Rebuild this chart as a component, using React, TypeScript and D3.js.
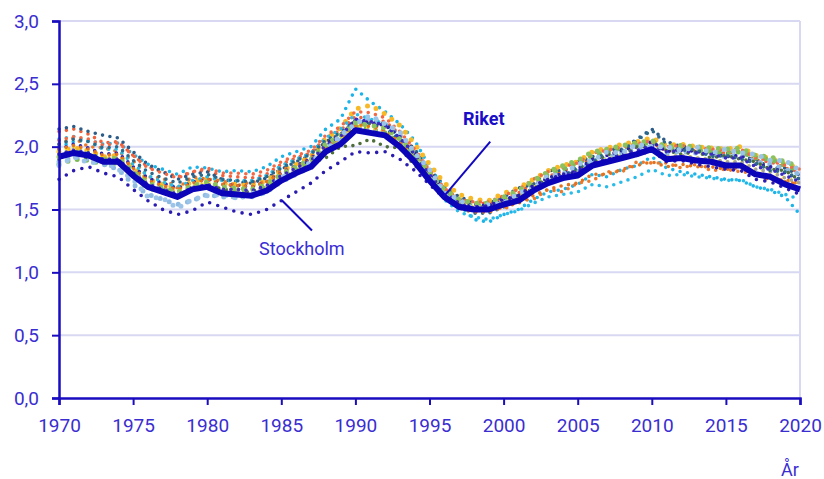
import { useEffect, useRef } from "react";
import * as d3 from "d3";

const years = d3.range(1970, 2021);
const xTicks = [1970, 1975, 1980, 1985, 1990, 1995, 2000, 2005, 2010, 2015, 2020];
const yTicks = [0, 0.5, 1, 1.5, 2, 2.5, 3];

const riket = [1.92, 1.95, 1.93, 1.88, 1.88, 1.77, 1.68, 1.64, 1.60, 1.66, 1.68, 1.63, 1.62, 1.61, 1.65, 1.73, 1.79, 1.84, 1.96, 2.02, 2.13, 2.11, 2.09, 2.00, 1.88, 1.73, 1.60, 1.52, 1.50, 1.50, 1.54, 1.57, 1.65, 1.71, 1.75, 1.77, 1.85, 1.88, 1.91, 1.94, 1.98, 1.90, 1.91, 1.89, 1.88, 1.85, 1.85, 1.78, 1.76, 1.70, 1.66];
const stockholm = [1.74, 1.81, 1.84, 1.79, 1.76, 1.66, 1.57, 1.50, 1.46, 1.49, 1.56, 1.52, 1.48, 1.46, 1.50, 1.57, 1.64, 1.71, 1.81, 1.88, 1.96, 1.95, 1.96, 1.90, 1.81, 1.70, 1.59, 1.53, 1.52, 1.53, 1.58, 1.61, 1.69, 1.74, 1.78, 1.80, 1.87, 1.89, 1.91, 1.93, 1.97, 1.88, 1.89, 1.86, 1.84, 1.82, 1.81, 1.74, 1.72, 1.67, 1.62];

// övriga län
const uppsala = [2.12, 2.14, 2.10, 2.03, 2.04, 1.93, 1.84, 1.80, 1.76, 1.80, 1.81, 1.77, 1.76, 1.75, 1.78, 1.86, 1.91, 1.95, 2.07, 2.13, 2.24, 2.22, 2.20, 2.10, 1.97, 1.80, 1.67, 1.58, 1.55, 1.55, 1.59, 1.63, 1.71, 1.76, 1.81, 1.83, 1.92, 1.94, 1.97, 2.00, 2.03, 1.97, 1.98, 1.97, 1.96, 1.95, 1.96, 1.89, 1.88, 1.83, 1.80];
const sodermanland = [2.14, 2.16, 2.12, 2.09, 2.07, 1.96, 1.86, 1.80, 1.74, 1.78, 1.80, 1.74, 1.72, 1.71, 1.75, 1.82, 1.88, 1.93, 2.04, 2.10, 2.20, 2.19, 2.18, 2.09, 1.98, 1.82, 1.69, 1.60, 1.56, 1.55, 1.60, 1.67, 1.70, 1.81, 1.81, 1.88, 1.92, 1.98, 1.98, 2.06, 2.14, 2.04, 2.00, 2.01, 1.95, 1.95, 1.92, 1.90, 1.83, 1.83, 1.77];
const ostergotland = [2.00, 2.04, 2.05, 2.02, 2.03, 1.94, 1.86, 1.82, 1.78, 1.84, 1.83, 1.80, 1.81, 1.80, 1.84, 1.92, 1.96, 2.00, 2.14, 2.22, 2.46, 2.36, 2.28, 2.18, 2.05, 1.84, 1.66, 1.54, 1.42, 1.40, 1.46, 1.50, 1.58, 1.64, 1.66, 1.70, 1.78, 1.76, 1.82, 1.85, 1.92, 1.83, 1.80, 1.78, 1.76, 1.74, 1.73, 1.68, 1.65, 1.60, 1.46];
const jonkoping = [1.96, 1.99, 1.97, 1.92, 1.93, 1.83, 1.74, 1.70, 1.67, 1.72, 1.75, 1.71, 1.70, 1.69, 1.73, 1.81, 1.86, 1.92, 2.06, 2.15, 2.30, 2.33, 2.26, 2.17, 2.02, 1.86, 1.71, 1.62, 1.58, 1.57, 1.63, 1.67, 1.74, 1.81, 1.85, 1.88, 1.96, 1.99, 2.02, 2.04, 2.07, 2.01, 2.02, 2.00, 1.99, 1.98, 2.00, 1.93, 1.91, 1.86, 1.83];
const kronoberg = [1.86, 1.90, 1.89, 1.86, 1.87, 1.76, 1.67, 1.64, 1.62, 1.66, 1.70, 1.66, 1.65, 1.64, 1.68, 1.76, 1.82, 1.87, 1.99, 2.05, 2.16, 2.14, 2.11, 2.03, 1.92, 1.77, 1.64, 1.55, 1.53, 1.52, 1.57, 1.62, 1.70, 1.78, 1.82, 1.87, 1.93, 1.96, 1.99, 2.01, 2.04, 1.98, 1.99, 1.97, 1.96, 1.95, 1.96, 1.91, 1.90, 1.85, 1.81];
const kalmar = [1.88, 1.92, 1.90, 1.86, 1.82, 1.70, 1.62, 1.58, 1.54, 1.57, 1.62, 1.60, 1.60, 1.60, 1.64, 1.72, 1.78, 1.84, 1.97, 2.06, 2.20, 2.22, 2.18, 2.08, 1.95, 1.78, 1.63, 1.54, 1.50, 1.50, 1.55, 1.59, 1.66, 1.72, 1.77, 1.80, 1.88, 1.91, 1.95, 1.98, 2.00, 1.95, 1.96, 1.95, 1.94, 1.92, 1.93, 1.88, 1.86, 1.82, 1.78];
const gotland = [2.02, 2.07, 2.00, 1.99, 1.96, 1.89, 1.76, 1.75, 1.67, 1.76, 1.74, 1.73, 1.69, 1.72, 1.71, 1.82, 1.84, 1.92, 1.99, 2.10, 2.16, 2.19, 2.12, 2.07, 1.91, 1.80, 1.63, 1.58, 1.51, 1.54, 1.50, 1.57, 1.58, 1.66, 1.64, 1.71, 1.73, 1.80, 1.80, 1.88, 1.87, 1.87, 1.83, 1.86, 1.81, 1.82, 1.80, 1.79, 1.73, 1.74, 1.70];
const blekinge = [1.98, 2.02, 1.99, 1.94, 1.95, 1.84, 1.75, 1.71, 1.67, 1.72, 1.74, 1.70, 1.69, 1.68, 1.72, 1.79, 1.85, 1.90, 2.02, 2.09, 2.21, 2.19, 2.17, 2.08, 1.95, 1.80, 1.66, 1.57, 1.54, 1.53, 1.57, 1.61, 1.69, 1.75, 1.79, 1.82, 1.90, 1.93, 1.97, 2.00, 2.04, 1.96, 1.98, 1.96, 1.95, 1.92, 1.93, 1.86, 1.84, 1.79, 1.74];
const skane = [1.97, 2.00, 1.96, 1.91, 1.91, 1.80, 1.71, 1.67, 1.64, 1.69, 1.71, 1.67, 1.66, 1.65, 1.69, 1.77, 1.83, 1.88, 2.00, 2.06, 2.17, 2.15, 2.12, 2.03, 1.91, 1.76, 1.63, 1.55, 1.52, 1.52, 1.56, 1.60, 1.67, 1.73, 1.77, 1.79, 1.87, 1.90, 1.93, 1.95, 1.99, 1.92, 1.93, 1.91, 1.90, 1.88, 1.88, 1.82, 1.80, 1.75, 1.71];
const halland = [1.90, 1.96, 1.90, 1.90, 1.87, 1.80, 1.67, 1.67, 1.60, 1.69, 1.67, 1.67, 1.62, 1.65, 1.65, 1.76, 1.78, 1.87, 1.91, 2.00, 2.01, 2.06, 2.00, 1.99, 1.85, 1.75, 1.59, 1.55, 1.49, 1.53, 1.54, 1.62, 1.66, 1.76, 1.76, 1.83, 1.87, 1.94, 1.93, 2.00, 2.00, 1.97, 1.94, 1.96, 1.91, 1.93, 1.90, 1.88, 1.82, 1.81, 1.73];
const vastraGotaland = [1.94, 1.98, 1.95, 1.90, 1.91, 1.80, 1.71, 1.67, 1.63, 1.68, 1.70, 1.66, 1.65, 1.64, 1.68, 1.76, 1.81, 1.86, 1.98, 2.04, 2.15, 2.13, 2.11, 2.02, 1.90, 1.75, 1.62, 1.54, 1.51, 1.51, 1.55, 1.59, 1.66, 1.72, 1.76, 1.79, 1.86, 1.89, 1.92, 1.95, 1.99, 1.92, 1.93, 1.91, 1.90, 1.88, 1.88, 1.82, 1.80, 1.75, 1.71];
const varmland = [2.06, 2.08, 2.04, 1.98, 1.98, 1.86, 1.77, 1.72, 1.68, 1.73, 1.76, 1.73, 1.73, 1.73, 1.77, 1.85, 1.90, 1.95, 2.07, 2.14, 2.26, 2.22, 2.18, 2.06, 1.92, 1.74, 1.58, 1.48, 1.44, 1.42, 1.46, 1.49, 1.55, 1.60, 1.62, 1.64, 1.70, 1.68, 1.72, 1.76, 1.82, 1.77, 1.78, 1.76, 1.75, 1.73, 1.74, 1.68, 1.66, 1.62, 1.58];
const orebro = [2.05, 2.08, 2.06, 2.01, 2.03, 1.93, 1.83, 1.79, 1.75, 1.80, 1.83, 1.79, 1.79, 1.78, 1.81, 1.88, 1.93, 1.97, 2.09, 2.16, 2.28, 2.27, 2.23, 2.12, 1.98, 1.81, 1.67, 1.58, 1.56, 1.56, 1.61, 1.66, 1.74, 1.80, 1.84, 1.87, 1.95, 1.97, 2.00, 2.02, 2.05, 2.00, 2.01, 1.99, 1.98, 1.97, 1.98, 1.91, 1.89, 1.85, 1.82];
const vastmanland = [2.02, 2.06, 2.04, 1.99, 2.00, 1.89, 1.80, 1.75, 1.71, 1.76, 1.78, 1.74, 1.73, 1.72, 1.76, 1.83, 1.89, 1.94, 2.05, 2.11, 2.21, 2.18, 2.15, 2.05, 1.92, 1.76, 1.62, 1.52, 1.47, 1.47, 1.52, 1.59, 1.64, 1.75, 1.76, 1.84, 1.88, 1.96, 1.97, 2.05, 2.13, 2.02, 1.97, 1.98, 1.92, 1.93, 1.90, 1.87, 1.81, 1.80, 1.74];
const dalarna = [1.98, 2.01, 1.98, 1.93, 1.94, 1.83, 1.73, 1.69, 1.66, 1.71, 1.74, 1.70, 1.69, 1.68, 1.72, 1.79, 1.84, 1.89, 2.00, 2.07, 2.18, 2.16, 2.13, 2.03, 1.90, 1.74, 1.60, 1.51, 1.48, 1.48, 1.52, 1.55, 1.61, 1.66, 1.69, 1.71, 1.78, 1.78, 1.82, 1.85, 1.88, 1.84, 1.86, 1.84, 1.84, 1.82, 1.83, 1.78, 1.76, 1.72, 1.70];
const gavleborg = [1.92, 1.96, 1.94, 1.90, 1.91, 1.80, 1.71, 1.67, 1.64, 1.69, 1.72, 1.68, 1.67, 1.66, 1.70, 1.78, 1.84, 1.90, 2.02, 2.09, 2.19, 2.17, 2.15, 2.06, 1.94, 1.79, 1.66, 1.58, 1.55, 1.55, 1.60, 1.65, 1.73, 1.80, 1.85, 1.89, 1.96, 1.98, 2.01, 2.03, 2.05, 2.00, 2.01, 2.00, 1.99, 1.98, 1.99, 1.93, 1.92, 1.88, 1.84];
const vasternorrland = [1.94, 1.97, 1.95, 1.90, 1.90, 1.79, 1.70, 1.66, 1.62, 1.67, 1.70, 1.66, 1.66, 1.65, 1.69, 1.77, 1.83, 1.89, 2.01, 2.08, 2.22, 2.20, 2.17, 2.07, 1.94, 1.78, 1.64, 1.55, 1.51, 1.50, 1.54, 1.58, 1.66, 1.72, 1.77, 1.80, 1.87, 1.90, 1.94, 1.97, 2.01, 1.96, 1.97, 1.95, 1.94, 1.91, 1.91, 1.84, 1.82, 1.77, 1.72];
const jamtland = [1.85, 1.92, 1.87, 1.88, 1.82, 1.74, 1.60, 1.59, 1.51, 1.58, 1.61, 1.62, 1.59, 1.63, 1.63, 1.76, 1.78, 1.88, 1.97, 2.09, 2.18, 2.25, 2.18, 2.12, 1.95, 1.82, 1.63, 1.58, 1.50, 1.54, 1.55, 1.63, 1.67, 1.77, 1.78, 1.86, 1.89, 1.96, 1.95, 2.02, 2.00, 2.00, 1.97, 2.00, 1.95, 1.98, 1.95, 1.94, 1.89, 1.89, 1.81];

const lanSeries = [
  { name: "Uppsala", values: uppsala, color: "#f0603a", big: false },
  { name: "Södermanland", values: sodermanland, color: "#2c5c88", big: false },
  { name: "Östergötland", values: ostergotland, color: "#1cb4e8", big: false },
  { name: "Jönköping", values: jonkoping, color: "#f7b928", big: true },
  { name: "Kronoberg", values: kronoberg, color: "#7dbb55", big: true },
  { name: "Kalmar", values: kalmar, color: "#8fbbe3", big: true },
  { name: "Gotland", values: gotland, color: "#ec7a2c", big: false },
  { name: "Blekinge", values: blekinge, color: "#2e22a8", big: false },
  { name: "Skåne", values: skane, color: "#ffe11a", big: false },
  { name: "Halland", values: halland, color: "#4e6e3c", big: false },
  { name: "Västra Götaland", values: vastraGotaland, color: "#a3a3a3", big: false },
  { name: "Värmland", values: varmland, color: "#29bce9", big: false },
  { name: "Örebro", values: orebro, color: "#f26a45", big: false },
  { name: "Västmanland", values: vastmanland, color: "#2b6a8a", big: false },
  { name: "Dalarna", values: dalarna, color: "#e3731f", big: false },
  { name: "Gävleborg", values: gavleborg, color: "#8cc25e", big: true },
  { name: "Västernorrland", values: vasternorrland, color: "#3a2cc0", big: false },
  { name: "Jämtland", values: jamtland, color: "#9cc4e8", big: true },
];

const width = 824;
const height = 479;
const margin = { top: 21, right: 24, bottom: 81, left: 59 };
const textColor = "#3a2ed0";
const axisColor = "#1a0dc0";
const gridColor = "#d8d8f2";
const font = "Roboto, sans-serif";

export default function App() {
  const ref = useRef<SVGSVGElement>(null);

  useEffect(() => {
    if (!ref.current) return;
    const el = ref.current;
    d3.select(el).selectAll("*").remove();

    const innerWidth = width - margin.left - margin.right;
    const innerHeight = height - margin.top - margin.bottom;

    const svg = d3
      .select(el)
      .append("g")
      .attr("transform", `translate(${margin.left},${margin.top})`);

    const x = d3.scaleLinear().domain([1970, 2020]).range([0, innerWidth]);
    const y = d3.scaleLinear().domain([0, 3]).range([innerHeight, 0]);

    // Grid
    svg
      .selectAll(".grid")
      .data(yTicks.filter((t) => t > 0))
      .join("line")
      .attr("x1", 0)
      .attr("x2", innerWidth)
      .attr("y1", (d) => y(d))
      .attr("y2", (d) => y(d))
      .attr("stroke", gridColor)
      .attr("stroke-width", 2);

    svg
      .append("line")
      .attr("x1", innerWidth)
      .attr("x2", innerWidth)
      .attr("y1", 0)
      .attr("y2", innerHeight)
      .attr("stroke", gridColor)
      .attr("stroke-width", 2);

    const line = d3
      .line<number>()
      .x((_, i) => x(years[i]))
      .y((d) => y(d));

    // County lines, dotted
    svg
      .selectAll(".lan")
      .data(lanSeries)
      .join("path")
      .attr("d", (d) => line(d.values))
      .attr("fill", "none")
      .attr("stroke", (d) => d.color)
      .attr("stroke-width", (d) => (d.big ? 5 : 3.6))
      .attr("stroke-linecap", "round")
      .attr("stroke-dasharray", (d) => (d.big ? "0 9.5" : "0 7.5"));

    svg
      .append("path")
      .attr("d", line(stockholm))
      .attr("fill", "none")
      .attr("stroke", "#2a1cb0")
      .attr("stroke-width", 3.6)
      .attr("stroke-linecap", "round")
      .attr("stroke-dasharray", "0 8.5");

    svg
      .append("path")
      .attr("d", line(riket))
      .attr("fill", "none")
      .attr("stroke", "#0c04b8")
      .attr("stroke-width", 6)
      .attr("stroke-linejoin", "round");

    // Axes
    const yAxis = svg
      .append("g")
      .call(
        d3.axisLeft(y)
          .tickValues(yTicks)
          .tickSize(7)
          .tickPadding(13)
          .tickFormat((v) => d3.format(".1f")(Number(v)).replace(".", ","))
      );
    yAxis.select(".domain").attr("stroke", axisColor).attr("stroke-width", 2.5);
    yAxis.selectAll(".tick line").attr("stroke", axisColor).attr("stroke-width", 2);
    yAxis
      .selectAll("text")
      .attr("fill", textColor)
      .style("font-family", font)
      .style("font-size", "19px");

    const xAxis = svg
      .append("g")
      .attr("transform", `translate(0,${innerHeight})`)
      .call(
        d3.axisBottom(x)
          .tickValues(xTicks)
          .tickSize(7)
          .tickPadding(14)
          .tickFormat((v) => String(v))
      );
    xAxis.select(".domain").attr("stroke", axisColor).attr("stroke-width", 2.5);
    xAxis.selectAll(".tick line").attr("stroke", axisColor).attr("stroke-width", 2);
    xAxis
      .selectAll("text")
      .attr("fill", textColor)
      .style("font-family", font)
      .style("font-size", "19px");

    svg
      .append("text")
      .attr("x", innerWidth - 10)
      .attr("y", innerHeight + 78)
      .attr("text-anchor", "middle")
      .attr("fill", textColor)
      .style("font-family", font)
      .style("font-size", "18px")
      .text("År");

    // Labels with leader lines
    svg
      .append("line")
      .attr("x1", x(1999.1))
      .attr("y1", y(2.04))
      .attr("x2", x(1995.9))
      .attr("y2", y(1.595))
      .attr("stroke", "#1208c0")
      .attr("stroke-width", 2);
    svg
      .append("text")
      .attr("x", x(1997.26))
      .attr("y", y(2.175))
      .attr("fill", "#1a0dc8")
      .style("font-family", font)
      .style("font-size", "18px")
      .style("font-weight", "bold")
      .text("Riket");

    svg
      .append("line")
      .attr("x1", x(1985.05))
      .attr("y1", y(1.571))
      .attr("x2", x(1987.07))
      .attr("y2", y(1.333))
      .attr("stroke", "#1208c0")
      .attr("stroke-width", 2);
    svg
      .append("text")
      .attr("x", x(1983.5))
      .attr("y", y(1.135))
      .attr("fill", "#3a2ed6")
      .style("font-family", font)
      .style("font-size", "18px")
      .text("Stockholm");
  }, []);

  return (
    <svg
      ref={ref}
      width={width}
      height={height}
      style={{ position: "absolute", left: 0, top: 0, background: "#fff" }}
    />
  );
}
